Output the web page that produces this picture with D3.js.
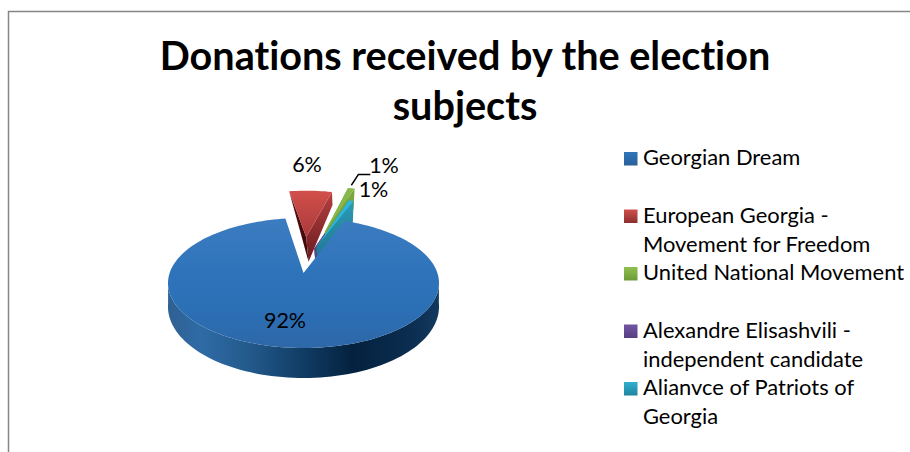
<!DOCTYPE html>
<html><head><meta charset="utf-8">
<script src="https://cdnjs.cloudflare.com/ajax/libs/d3/7.8.5/d3.min.js"></script>
<style>html,body{margin:0;padding:0;background:#fff}svg{display:block}text{font-family:Lato,sans-serif;fill:#000;font-variant-ligatures:none}</style>
</head><body><svg id="c" width="910" height="452"></svg>
<script>
const titleLines = ["Donations received by the election", "subjects"];
const categories = ["Georgian Dream", "European Georgia - Movement for Freedom", "United National Movement", "Alexandre Elisashvili - independent candidate", "Alianvce of Patriots of Georgia"];
const legendLines = [["Georgian Dream"], ["European Georgia -", "Movement for Freedom"], ["United National Movement"], ["Alexandre Elisashvili -", "independent candidate"], ["Alianvce of Patriots of", "Georgia"]];
const values = [92, 6.4, 1, 0.1, 0.7];
const valueLabels = ["92%", "6%", "1%", "", "1%"];
const swatchTop = ["#2f75bb", "#d04f4c", "#8fc04f", "#7155a4", "#2fb0d0"];
const swatchBottom = ["#2a6099", "#8c2f2e", "#6d9a3a", "#574080", "#21849e"];

// 3D styling per slice
const topColors = [null, "url(#redTop)", "#86b94a", "#6a4fa0", "#2cb6dc"];
const wallLeft = [null, "url(#redL)", "#6f9638", "#4a3570", "#1f7e96"];
const wallRight = [null, "url(#redR)", "#7aa63f", "#55408a", "url(#tealW)"];
const explode = [0, 0.62, 0.74, 0.42, 0.45];
const explodeTurn = [0, -0.5, -2, -6, -6];
const backDepth = [0, 13, 20, 22, 27];

const svg = d3.select("#c"), defs = svg.append("defs");
function grad(id, stops, x1=0, y1=0, x2=0, y2=1, units) {
  const g = defs.append("linearGradient").attr("id", id).attr("x1", x1).attr("y1", y1).attr("x2", x2).attr("y2", y2);
  if (units) g.attr("gradientUnits", units);
  stops.forEach(s => g.append("stop").attr("offset", s[0]).attr("stop-color", s[1]));
}
grad("blueTop", [[0, "#3c7cc0"], [0.4, "#2f74bb"], [0.7, "#2b6fb5"], [1, "#2e68a8"]]);
grad("blueRim", [[0, "#2f6092"], [0.12, "#2f6ba6"], [0.3, "#235a8c"], [0.48, "#123f68"], [0.68, "#04223f"], [0.88, "#0a2c4e"], [1, "#12395e"]], 0, 0, 1, 0);
grad("redTop", [[0, "#d24f4b"], [1, "#a93a3a"]]);
grad("redL", [[0, "#5c1012"], [1, "#3a0608"]]);
grad("redR", [[0, "#b5403f"], [1, "#6a1a20"]]);
grad("tealW", [[0, "#2b9ab5"], [1, "#1f6f8c"]]);
values.forEach((v, i) => grad("sw" + i, [[0, swatchTop[i]], [1, swatchBottom[i]]]));

// chart frame
svg.append("path").attr("d", "M8.5,452V11.5H910").attr("fill", "none").attr("stroke", "#868686").attr("stroke-width", 1.5);

// title
svg.selectAll(".title").data(titleLines).join("text").attr("class", "title")
  .attr("x", 465).attr("y", (d, i) => 70 + i * 50).attr("text-anchor", "middle")
  .attr("font-size", 39.6).attr("font-weight", 700).text(d => d);

// perspective projection of pie plane
const cx = 303.5, cy = 273, k = 0.1538, ax = 133.9, ay = 63.46;
const sc = v => 1 / (1 - k * v);
const px = (u, v) => cx + ax * u * sc(v);
const py = (u, v) => cy + ay * v * sc(v);
const depth = d3.scaleLinear().domain([-1.6, -0.6, 1]).range([13, 25, 30]).clamp(true);
const rad = Math.PI / 180;

const pie = d3.pie().sort(null).startAngle(20.5 * rad).endAngle(380.5 * rad);
const arcs = pie(values);
const line = d3.line();

function slicePts(d, i) {
  const mid = (d.startAngle + d.endAngle) / 2 + explodeTurn[i] * rad, e = explode[i];
  const ou = e * Math.sin(mid), ov = -e * Math.cos(mid);
  const steps = d3.range(0, 1.0001, 1 / Math.max(2, Math.ceil((d.endAngle - d.startAngle) / (2 * rad))));
  const arc = steps.map(t => { const a = d.startAngle + t * (d.endAngle - d.startAngle); return [ou + Math.sin(a), ov - Math.cos(a)]; });
  return { tip: [ou, ov], arc };
}
const P = p => [px(p[0], p[1]), py(p[0], p[1])];
const lean = 0.07;
const Pb = (p, dp) => { const q = P(p); return [q[0] + (340 - q[0]) * lean, q[1] + dp]; };

const g = svg.append("g");
// exploded slices drawn behind the main slice
[1, 3, 2, 4].forEach(i => {
  const s = slicePts(arcs[i], i), a0 = s.arc[0], a1 = s.arc[s.arc.length - 1];
  g.append("path").attr("d", line([P(a0), P(s.tip), Pb(s.tip, depth(s.tip[1])), Pb(a0, backDepth[i])]) + "Z").attr("fill", wallLeft[i]);
  g.append("path").attr("d", line([P(a1), P(s.tip), Pb(s.tip, depth(s.tip[1])), Pb(a1, backDepth[i])]) + "Z").attr("fill", wallRight[i]);
  g.append("path").attr("d", line([P(s.tip), ...s.arc.map(P)]) + "Z").attr("fill", topColors[i]);
});

// main slice: rim then top face
const main = slicePts(arcs[0], 0);
const front = main.arc.filter(p => p[1] > 0.1);
const rimPts = [...front.map(P), ...front.slice().reverse().map(p => { const q = P(p); return [q[0], q[1] + depth(p[1]) * sc(p[1]) / sc(1)]; })];
g.append("path").attr("d", line(rimPts) + "Z").attr("fill", "url(#blueRim)");
g.append("path").attr("d", line([P(main.tip), ...main.arc.map(P)]) + "Z").attr("fill", "url(#blueTop)");

// leader line for the green slice label
const gs = slicePts(arcs[2], 2), gEnd = P(gs.arc[1]);
svg.append("path").attr("d", line([[gEnd[0], gEnd[1] - 3], [gEnd[0] + 7, 174.5], [gEnd[0] + 19, 174.5]]))
  .attr("fill", "none").attr("stroke", "#000").attr("stroke-width", 1.4);

// value labels
const labelAnchor = [[285, 328], [307, 172], [384, 173], [0, 0], [373.5, 197]];
svg.selectAll(".val").data(valueLabels).join("text").attr("class", "val")
  .attr("x", (d, i) => labelAnchor[i][0]).attr("y", (d, i) => labelAnchor[i][1])
  .attr("text-anchor", "middle").attr("font-size", 21.5).text(d => d);

// legend
const ly = d3.scalePoint().domain(categories).range([152, 382]);
const lg = svg.selectAll(".lg").data(categories).join("g").attr("class", "lg").attr("transform", d => `translate(624,${ly(d)})`);
lg.append("rect").attr("width", 13.5).attr("height", 13.5).attr("fill", (d, i) => `url(#sw${i})`);
lg.each(function (d, i) {
  d3.select(this).selectAll("text").data(legendLines[i]).join("text")
    .attr("x", 19).attr("y", (t, j) => 13 + j * 29).attr("font-size", 21.9).text(t => t);
});
</script></body></html>
